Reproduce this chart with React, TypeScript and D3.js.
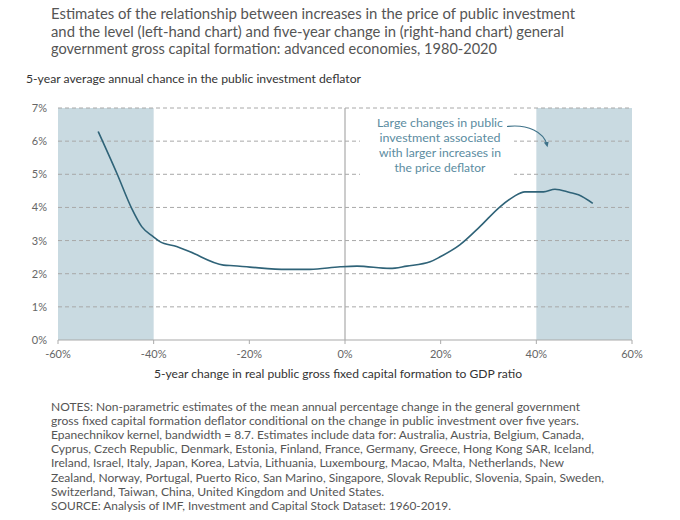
import { useEffect, useRef } from "react";
import * as d3 from "d3";

// 5-year change in real public GFCF to GDP ratio (%)
const changeX = [-51.6, -47.7, -44.6, -42.5, -40.1, -38.7, -35.2, -32.4, -25.4, -23.3, -19.9, -12.2, -7.3, -1.0, 2.5, 9.4, 12.9, 17.8, 19.9, 24.0, 28.2, 32.4, 35.2, 37.6, 41.5, 43.9, 47.0, 48.8, 51.8];
// average annual change in the public investment deflator (%)
const deflatorY = [6.29, 5.03, 3.97, 3.42, 3.12, 2.97, 2.82, 2.66, 2.26, 2.24, 2.2, 2.13, 2.13, 2.21, 2.23, 2.16, 2.23, 2.36, 2.51, 2.87, 3.42, 4.02, 4.32, 4.47, 4.47, 4.55, 4.45, 4.38, 4.12];

const xTicks = [-60, -40, -20, 0, 20, 40, 60];
const yTicks = [0, 1, 2, 3, 4, 5, 6, 7];
const shadedRanges = [[-60, -40], [40, 60]];

const titleLines = [
  "Estimates of the relationship between increases in the price of public investment",
  "and the level (left-hand chart) and five-year change in (right-hand chart) general",
  "government gross capital formation: advanced economies, 1980-2020",
];
const titleWidths = [524, 513, 446];

const annotationLines = [
  "Large changes in public",
  "investment associated",
  "with larger increases in",
  "the price deflator",
];
const annotationWidths = [126, 121, 122, 91];

const noteLines = [
  "NOTES: Non-parametric estimates of the mean annual percentage change in the general government",
  "gross fixed capital formation deflator conditional on the change in public investment over five years.",
  "Epanechnikov kernel, bandwidth = 8.7. Estimates include data for: Australia, Austria, Belgium, Canada,",
  "Cyprus, Czech Republic, Denmark, Estonia, Finland, France, Germany, Greece, Hong Kong SAR, Iceland,",
  "Ireland, Israel, Italy, Japan, Korea, Latvia, Lithuania, Luxembourg, Macao, Malta, Netherlands, New",
  "Zealand, Norway, Portugal, Puerto Rico, San Marino, Singapore, Slovak Republic, Slovenia, Spain, Sweden,",
  "Switzerland, Taiwan, China, United Kingdom and United States.",
  "SOURCE: Analysis of IMF, Investment and Capital Stock Dataset: 1960-2019.",
];
const noteWidths = [529, 528, 533, 543, 513, 553, 333, 400];

const font = "Lato, 'Open Sans', sans-serif";

function App() {
  const ref = useRef(null);

  useEffect(() => {
    const width = 680;
    const height = 520;
    const left = 58;
    const right = 632;
    const top = 108;
    const bottom = 340;

    const root = d3.select(ref.current);
    root.selectAll("*").remove();

    const svg = root
      .append("svg")
      .attr("width", width)
      .attr("height", height)
      .style("position", "absolute")
      .style("left", "0px")
      .style("top", "0px")
      .style("font-family", font);

    const x = d3.scaleLinear().domain([-60, 60]).range([left, right]);
    const y = d3.scaleLinear().domain([0, 7]).range([bottom, top]);

    // Title
    svg
      .selectAll("text.title")
      .data(titleLines)
      .enter()
      .append("text")
      .attr("class", "title")
      .attr("x", 51)
      .attr("y", (d, i) => 19 + i * 17.5)
      .attr("font-size", 14.5)
      .attr("fill", "#555")
      .attr("textLength", (d, i) => titleWidths[i])
      .attr("lengthAdjust", "spacingAndGlyphs")
      .text((d) => d);

    // Y axis title
    svg
      .append("text")
      .attr("x", 26)
      .attr("y", 83)
      .attr("font-size", 12)
      .attr("fill", "#333")
      .attr("textLength", 335)
      .attr("lengthAdjust", "spacingAndGlyphs")
      .text("5-year average annual chance in the public investment deflator");

    // Shaded ranges
    svg
      .selectAll("rect.shade")
      .data(shadedRanges)
      .enter()
      .append("rect")
      .attr("class", "shade")
      .attr("x", (d) => x(d[0]))
      .attr("y", y(7))
      .attr("width", (d) => x(d[1]) - x(d[0]))
      .attr("height", y(0) - y(7))
      .attr("fill", "#c9dae1");

    // Grid lines
    svg
      .selectAll("line.grid")
      .data(yTicks.filter((t) => t > 0))
      .enter()
      .append("line")
      .attr("class", "grid")
      .attr("x1", x(-60))
      .attr("x2", x(60))
      .attr("y1", (d) => y(d))
      .attr("y2", (d) => y(d))
      .attr("stroke", "#a8a8a8")
      .attr("stroke-width", 1)
      .attr("stroke-dasharray", "4,3");

    // Annotation background
    svg
      .append("rect")
      .attr("x", 360)
      .attr("y", 114)
      .attr("width", 154)
      .attr("height", 62)
      .attr("fill", "#fff");

    // Axes
    svg
      .append("line")
      .attr("x1", x(-60))
      .attr("x2", x(60))
      .attr("y1", y(0))
      .attr("y2", y(0))
      .attr("stroke", "#aaa")
      .attr("stroke-width", 1.2);

    svg
      .append("line")
      .attr("x1", x(0))
      .attr("x2", x(0))
      .attr("y1", y(0))
      .attr("y2", y(7))
      .attr("stroke", "#aaa")
      .attr("stroke-width", 1.2);

    svg
      .selectAll("line.xtick")
      .data(xTicks)
      .enter()
      .append("line")
      .attr("class", "xtick")
      .attr("x1", (d) => x(d))
      .attr("x2", (d) => x(d))
      .attr("y1", y(0))
      .attr("y2", y(0) + 4)
      .attr("stroke", "#aaa");

    svg
      .selectAll("text.ylab")
      .data(yTicks)
      .enter()
      .append("text")
      .attr("class", "ylab")
      .attr("x", 47)
      .attr("y", (d) => y(d) + 4)
      .attr("text-anchor", "end")
      .attr("font-size", 11)
      .attr("fill", "#666")
      .text((d) => `${d}%`);

    svg
      .selectAll("text.xlab")
      .data(xTicks)
      .enter()
      .append("text")
      .attr("class", "xlab")
      .attr("x", (d) => x(d))
      .attr("y", y(0) + 18)
      .attr("text-anchor", "middle")
      .attr("font-size", 11)
      .attr("fill", "#666")
      .text((d) => `${d}%`);

    svg
      .append("text")
      .attr("x", 154)
      .attr("y", 378)
      .attr("font-size", 12)
      .attr("fill", "#333")
      .attr("textLength", 368)
      .attr("lengthAdjust", "spacingAndGlyphs")
      .text("5-year change in real public gross fixed capital formation to GDP ratio");

    // Curve
    const points = changeX.map((v, i) => [v, deflatorY[i]]);
    const line = d3
      .line()
      .x((d) => x(d[0]))
      .y((d) => y(d[1]))
      .curve(d3.curveMonotoneX);

    svg
      .append("path")
      .attr("d", line(points))
      .attr("fill", "none")
      .attr("stroke", "#2f6378")
      .attr("stroke-width", 1.6);

    // Annotation
    svg
      .selectAll("text.note-ann")
      .data(annotationLines)
      .enter()
      .append("text")
      .attr("class", "note-ann")
      .attr("x", 440)
      .attr("y", (d, i) => 126.5 + i * 15)
      .attr("text-anchor", "middle")
      .attr("font-size", 12)
      .attr("fill", "#5b8ca1")
      .attr("textLength", (d, i) => annotationWidths[i])
      .attr("lengthAdjust", "spacingAndGlyphs")
      .text((d) => d);

    svg
      .append("defs")
      .append("marker")
      .attr("id", "arrowhead")
      .attr("viewBox", "0 0 10 10")
      .attr("refX", 5)
      .attr("refY", 5)
      .attr("markerWidth", 5)
      .attr("markerHeight", 5)
      .attr("orient", "auto")
      .append("path")
      .attr("d", "M0,1 L9,5 L0,9 Z")
      .attr("fill", "#3e7289");

    svg
      .append("path")
      .attr("d", "M507,126.5 C528,124 544,132 547,145")
      .attr("fill", "none")
      .attr("stroke", "#3e7289")
      .attr("stroke-width", 1.2)
      .attr("marker-end", "url(#arrowhead)");

    // Notes
    svg
      .selectAll("text.notes")
      .data(noteLines)
      .enter()
      .append("text")
      .attr("class", "notes")
      .attr("x", 51)
      .attr("y", (d, i) => 411 + i * 14.1)
      .attr("font-size", 12)
      .attr("fill", "#555")
      .attr("textLength", (d, i) => noteWidths[i])
      .attr("lengthAdjust", "spacingAndGlyphs")
      .text((d) => d);
  }, []);

  return <div ref={ref}></div>;
}

export default App;
